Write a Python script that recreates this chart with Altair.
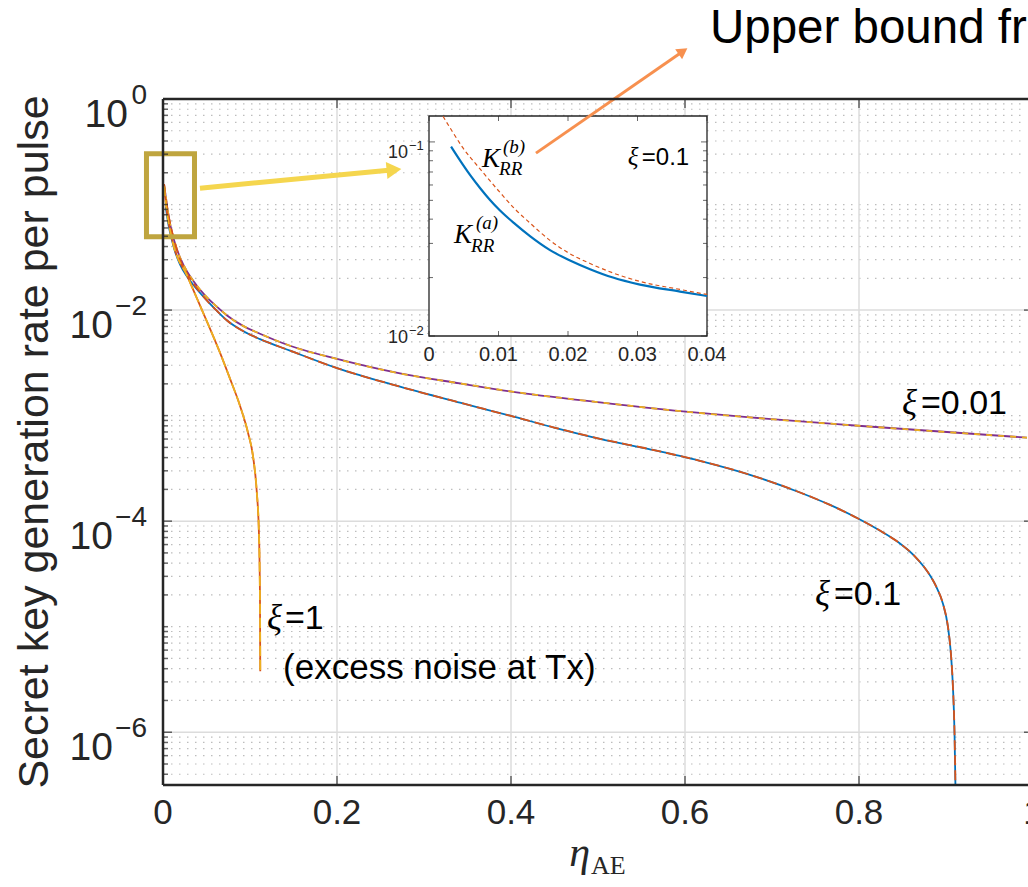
import altair as alt
import pandas as pd

# ---------------- data ----------------
# xi = 0.01  (solid purple + dashed yellow overlay)
xi001_eta = [0.00115, 0.00345, 0.00575, 0.0092, 0.0138, 0.0195, 0.0276, 0.0345, 0.0483, 0.0609,
             0.0736, 0.092, 0.1115, 0.146, 0.2, 0.2724, 0.3414, 0.3989, 0.5023, 0.5977,
             0.6747, 0.7989, 1.0]
xi001_K = [0.1559, 0.1148, 0.0845, 0.0596, 0.0429, 0.0316, 0.02326, 0.0191, 0.01376, 0.01094,
           0.00889, 0.00708, 0.00597, 0.00459, 0.00344, 0.00251, 0.00202, 0.0017, 0.001335, 0.001096,
           0.000961, 0.000802, 0.000613]

# xi = 0.1, K_RR^(a)  (solid blue) as read on the main axes
xi01_eta = [0.00317, 0.00575, 0.0092, 0.0138, 0.0195, 0.0276, 0.0345, 0.0483, 0.0609, 0.0736,
            0.092, 0.1115, 0.146, 0.2, 0.2724, 0.3414, 0.3989, 0.4506, 0.5023, 0.5598,
            0.6172, 0.6747, 0.7322, 0.7667, 0.7989, 0.8276, 0.8471, 0.8644, 0.8782, 0.8885,
            0.8966, 0.9023, 0.9057, 0.908, 0.9098, 0.9109, 0.9117]
xi01_K = [0.0943, 0.0679, 0.05, 0.036, 0.0271, 0.02085, 0.01749, 0.01289, 0.01002, 0.00796,
          0.00633, 0.00531, 0.00413, 0.00282, 0.00188, 0.001326, 0.000998, 0.000767, 0.000603, 0.00048,
          0.000373, 0.000275, 0.000187, 0.0001425, 0.000106, 7.81e-5, 6.14e-5, 4.62e-5, 3.37e-5, 2.42e-5,
          1.64e-5, 9.89e-6, 5.48e-6, 2.66e-6, 9.74e-7, 2.93e-7, 9.2e-8]
N_HEAD = 7  # points with eta < 0.04, where the upper bound differs

# xi = 0.1, upper bound K_RR^(b) (dashed orange) on the main axes; equal to (a) beyond eta ~ 0.045
ub_head_eta = [0.00126, 0.00345, 0.00575, 0.0092, 0.0138, 0.0195, 0.0276, 0.0345]
ub_head_K = [0.1559, 0.1099, 0.0836, 0.0609, 0.0429, 0.0302, 0.02226, 0.01809]
ub_eta = ub_head_eta + xi01_eta[N_HEAD:]
ub_K = ub_head_K + xi01_K[N_HEAD:]

# xi = 1 (excess noise at Tx)  (solid orange + dashed yellow overlay)
xi1_eta = [0.00115, 0.0046, 0.0115, 0.0276, 0.0425, 0.054, 0.0655, 0.077, 0.0885, 0.0977,
           0.1034, 0.1077, 0.1103, 0.1115, 0.1118]
xi1_K = [0.149, 0.0845, 0.0429, 0.0213, 0.01106, 0.00668, 0.00395, 0.00224, 0.00124, 0.000689,
         0.000416, 0.000194, 7.55e-5, 1.75e-5, 3.78e-6]

# inset (zoom of xi = 0.1 near eta = 0), read on the inset axes
ins_a_eta = [0.00317, 0.00446, 0.0059, 0.00734, 0.00878, 0.01022, 0.01237, 0.01453, 0.01741, 0.02029,
             0.02317, 0.02647, 0.03036, 0.03612, 0.04]
ins_a_K = [0.0946, 0.0803, 0.0676, 0.0579, 0.0502, 0.0443, 0.0378, 0.0327, 0.0277, 0.0245,
           0.0221, 0.0200, 0.0184, 0.01694, 0.01607]
ins_b_eta = [0.002014, 0.00331, 0.00489, 0.00734, 0.01022, 0.01237, 0.01453, 0.01741, 0.02,
             0.02317, 0.02647, 0.03036, 0.03612, 0.04]
ins_b_K = [0.1355, 0.1139, 0.0931, 0.0726, 0.0549, 0.0451, 0.0382, 0.0311, 0.0269,
           0.02364, 0.02113, 0.0191, 0.01737, 0.01637]

# axes ticks / labels
x_ticks = [0, 0.2, 0.4, 0.6, 0.8, 1.0]
x_tick_labels = ["0", "0.2", "0.4", "0.6", "0.8", "1"]
y_major = [1, 1e-2, 1e-4, 1e-6]
y_major_exp = ["0", "\u22122", "\u22124", "\u22126"]
Y_MIN = 10 ** -6.5
y_minor = [round(m * 10.0 ** k, 12) for k in range(-7, 0) for m in range(1, 10)
           if not (m == 1 and k % 2 == 0) and m * 10.0 ** k >= Y_MIN]
x_grid = [0.2, 0.4, 0.6, 0.8]

ins_x_ticks = [0, 0.01, 0.02, 0.03, 0.04]
ins_x_labels = ["0", "0.01", "0.02", "0.03", "0.04"]
ins_y_major = [0.1, 0.01]
ins_y_exp = ["\u22121", "\u22122"]
ins_y_minor = [0.02, 0.03, 0.04, 0.05, 0.06, 0.07, 0.08, 0.09]

# ---------------- styling ----------------
SANS = "Liberation Sans, Arial, Helvetica, sans-serif"
SERIF = "Liberation Serif, Times New Roman, DejaVu Serif, serif"
AX = "#262626"
BLUE, ORANGE, YELLOW, PURPLE = "#0072BD", "#D95319", "#EDB120", "#7E2F8E"

W, H = 864, 686
X_MAX = 0.9931
XS = alt.Scale(domain=[0, X_MAX], nice=False, zero=False)
YS = alt.Scale(type="log", domain=[Y_MIN, 1], nice=False)
IXS = alt.Scale(domain=[0, 0.04], range=[266, 544], nice=False, zero=False)
IYS = alt.Scale(type="log", domain=[0.01, 0.136], range=[237, 17], nice=False)
ONE = pd.DataFrame({"k": [0]})


def ex(field=None, datum=None, s=XS):
    if field is not None:
        return alt.X(field, type="quantitative", scale=s, axis=None)
    return alt.XDatum(datum, type="quantitative", scale=s, axis=None)


def ey(field=None, datum=None, s=YS):
    if field is not None:
        return alt.Y(field, type="quantitative", scale=s, axis=None)
    return alt.YDatum(datum, type="quantitative", scale=s, axis=None)


def curve(eta, K, color, width, dash=None, xs=XS, ys=YS):
    df = pd.DataFrame({"eta": eta, "K": K})
    props = dict(color=color, strokeWidth=width, clip=True, interpolate="monotone")
    if dash:
        props["strokeDash"] = dash
    return alt.Chart(df).mark_line(**props).encode(x=ex("eta", s=xs), y=ey("K", s=ys))


def label(t, x, y, size, font=SANS, style="normal", align="left", baseline="alphabetic",
          dx=0, dy=0, xs=XS, ys=YS, color="black"):
    return alt.Chart(ONE).mark_text(
        text=t, font=font, fontSize=size, fontStyle=style, align=align,
        baseline=baseline, dx=dx, dy=dy, color=color
    ).encode(x=ex(datum=x, s=xs), y=ey(datum=y, s=ys))


def ptext(t, px, py, size, font=SANS, style="normal", align="center",
          baseline="alphabetic", angle=0, color=AX):
    return alt.Chart(ONE).mark_text(
        text=t, font=font, fontSize=size, fontStyle=style, align=align,
        baseline=baseline, angle=angle, color=color
    ).encode(x=alt.value(px), y=alt.value(py))


def arrow(x0, y0, x1, y1, color, width, head_size, head_angle, xs=XS, ys=YS):
    df = pd.DataFrame({"x": [x0, x1], "y": [y0, y1]})
    ln = alt.Chart(df).mark_line(color=color, strokeWidth=width).encode(
        x=ex("x", s=xs), y=ey("y", s=ys))
    hd = alt.Chart(ONE).mark_point(shape="triangle-up", angle=head_angle, size=head_size,
                                   filled=True, color=color, opacity=1, strokeWidth=0).encode(
        x=ex(datum=x1, s=xs), y=ey(datum=y1, s=ys))
    return [ln, hd]


layers = []

# ---- grid ----
layers.append(alt.Chart(pd.DataFrame({"v": y_minor})).mark_rule(
    color="#BDBDBD", strokeWidth=1.2, strokeDash=[1.5, 6.5]).encode(
    y=ey("v"), x=alt.value(0), x2=alt.value(W)))
layers.append(alt.Chart(pd.DataFrame({"v": y_major[1:]})).mark_rule(
    color="#DCDCDC", strokeWidth=1.5).encode(y=ey("v"), x=alt.value(0), x2=alt.value(W)))
layers.append(alt.Chart(pd.DataFrame({"v": x_grid})).mark_rule(
    color="#DCDCDC", strokeWidth=1.5).encode(x=ex("v"), y=alt.value(0), y2=alt.value(H)))

# ---- main curves ----
layers += [
    curve(xi001_eta, xi001_K, PURPLE, 1.8),
    curve(xi001_eta, xi001_K, YELLOW, 1.8, dash=[6, 6]),
    curve(xi01_eta, xi01_K, BLUE, 1.8),
    curve(ub_eta, ub_K, ORANGE, 1.8, dash=[10, 5]),
    curve(xi1_eta, xi1_K, ORANGE, 1.8),
    curve(xi1_eta, xi1_K, YELLOW, 1.8, dash=[10, 4]),
]

# ---- zoom box and yellow arrow ----
layers.append(alt.Chart(ONE).mark_rect(filled=False, color="#BFA53F", strokeWidth=5).encode(
    x=ex(datum=-0.019), x2=alt.X2Datum(0.0362),
    y=ey(datum=0.303), y2=alt.Y2Datum(0.0495)))
layers += arrow(0.0425, 0.143, 0.2655, 0.2133, "#F5D64E", 5, 290, 84.6)

# ---- inset ----
layers.append(alt.Chart(ONE).mark_rect(fill="white", stroke=AX, strokeWidth=1.3).encode(
    x=ex(datum=0, s=IXS), x2=alt.X2Datum(0.04),
    y=ey(datum=0.01, s=IYS), y2=alt.Y2Datum(0.136)))
layers += [
    curve(ins_a_eta, ins_a_K, BLUE, 2.2, xs=IXS, ys=IYS),
    curve(ins_b_eta, ins_b_K, ORANGE, 1.2, dash=[4, 3], xs=IXS, ys=IYS),
]
iyt = pd.DataFrame({"v": ins_y_major})
iym = pd.DataFrame({"v": ins_y_minor})
ixt = pd.DataFrame({"v": ins_x_ticks, "lab": ins_x_labels})
for df, ln in ((iyt, 6), (iym, 4)):
    layers.append(alt.Chart(df).mark_tick(orient="horizontal", size=ln, thickness=1, xOffset=ln / 2,
                                          color=AX).encode(x=ex(datum=0, s=IXS), y=ey("v", s=IYS)))
    layers.append(alt.Chart(df).mark_tick(orient="horizontal", size=ln, thickness=1, xOffset=-ln / 2,
                                          color=AX).encode(x=ex(datum=0.04, s=IXS), y=ey("v", s=IYS)))
layers.append(alt.Chart(ixt).mark_tick(orient="vertical", size=5, thickness=1, yOffset=-2.5,
                                       color=AX).encode(x=ex("v", s=IXS), y=ey(datum=0.01, s=IYS)))
layers.append(alt.Chart(ixt).mark_tick(orient="vertical", size=5, thickness=1, yOffset=2.5,
                                       color=AX).encode(x=ex("v", s=IXS), y=ey(datum=0.136, s=IYS)))
layers.append(alt.Chart(ixt).mark_text(baseline="top", dy=9, fontSize=20, font=SANS, color=AX).encode(
    x=ex("v", s=IXS), y=ey(datum=0.01, s=IYS), text="lab:N"))
iyl = pd.DataFrame({"v": ins_y_major, "e": ins_y_exp})
for cond, dy in (("datum.v > 0.05", 11), ("datum.v < 0.05", 2)):
    layers.append(alt.Chart(iyl).transform_filter(cond).mark_text(
        text="10", align="right", dx=-21, dy=dy, fontSize=18, font=SANS, color=AX).encode(
        x=ex(datum=0, s=IXS), y=ey("v", s=IYS)))
    layers.append(alt.Chart(iyl).transform_filter(cond).mark_text(
        align="left", dx=-20, dy=dy - 7, fontSize=13, font=SANS, color=AX).encode(
        x=ex(datum=0, s=IXS), y=ey("v", s=IYS), text="e:N"))
# inset annotations
layers += [
    label("\u03be", 0.0286, 0.076, 25, font=SERIF, style="italic", xs=IXS, ys=IYS),
    label("=0.1", 0.0286, 0.076, 24, dx=14, xs=IXS, ys=IYS),
    label("K", 0.00763, 0.0743, 27, font=SERIF, style="italic", xs=IXS, ys=IYS),
    label("(b)", 0.00763, 0.0743, 19, font=SERIF, style="italic", dx=21, dy=-14, xs=IXS, ys=IYS),
    label("RR", 0.00763, 0.0743, 19, font=SERIF, style="italic", dx=17, dy=8, xs=IXS, ys=IYS),
    label("K", 0.0036, 0.0301, 27, font=SERIF, style="italic", xs=IXS, ys=IYS),
    label("(a)", 0.0036, 0.0301, 19, font=SERIF, style="italic", dx=22, dy=-14, xs=IXS, ys=IYS),
    label("RR", 0.0036, 0.0301, 19, font=SERIF, style="italic", dx=17, dy=9, xs=IXS, ys=IYS),
]

# ---- orange arrow to upper-bound text ----
layers += arrow(0.4287, 0.307, 0.5977, 2.83, "#F7904F", 3, 150, 55.4)
layers.append(label("Upper bound from", 0.6287, 3.40, 47.5))

# ---- curve annotations ----
layers += [
    label("\u03be", 0.8494, 1.04e-3, 35, font=SERIF, style="italic"),
    label("=0.01", 0.8494, 1.04e-3, 34, dx=19),
    label("\u03be", 0.7494, 1.6e-5, 35, font=SERIF, style="italic"),
    label("=0.1", 0.7494, 1.6e-5, 34, dx=19),
    label("\u03be", 0.1195, 9.47e-6, 35, font=SERIF, style="italic"),
    label("=1", 0.1195, 9.47e-6, 34, dx=18),
    label("(excess noise at Tx)", 0.138, 3.17e-6, 35),
]

# ---- frame, ticks, tick labels ----
layers += [
    alt.Chart(ONE).mark_rule(color=AX, strokeWidth=2.5).encode(
        x=alt.value(0), x2=alt.value(W + 10), y=alt.value(0)),
    alt.Chart(ONE).mark_rule(color=AX, strokeWidth=2.5).encode(
        x=alt.value(0), x2=alt.value(W + 10), y=alt.value(H)),
    alt.Chart(ONE).mark_rule(color=AX, strokeWidth=2.5).encode(
        x=alt.value(0), y=alt.value(0), y2=alt.value(H)),
]
ymaj = pd.DataFrame({"v": y_major})
ymin = pd.DataFrame({"v": y_minor})
for df, ln in ((ymaj, 9), (ymin, 5)):
    layers.append(alt.Chart(df).mark_tick(orient="horizontal", size=ln, thickness=1.5,
                                          xOffset=ln / 2, color=AX).encode(x=alt.value(0), y=ey("v")))
    layers.append(alt.Chart(df).mark_tick(orient="horizontal", size=ln, thickness=1.5,
                                          xOffset=-ln / 2, color=AX).encode(x=alt.value(870), y=ey("v")))
xt = pd.DataFrame({"v": x_ticks, "lab": x_tick_labels})
layers.append(alt.Chart(xt).mark_tick(orient="vertical", size=9, thickness=1.5, yOffset=-4.5,
                                      color=AX).encode(x=ex("v"), y=alt.value(H)))
layers.append(alt.Chart(xt).mark_tick(orient="vertical", size=9, thickness=1.5, yOffset=4.5,
                                      color=AX).encode(x=ex("v"), y=alt.value(0)))
layers.append(alt.Chart(xt).mark_text(baseline="top", dy=11, fontSize=35, font=SANS, color=AX).encode(
    x=ex("v"), y=alt.value(H), text="lab:N"))
ylab = pd.DataFrame({"v": y_major, "e": y_major_exp})
layers.append(alt.Chart(ylab).transform_filter("datum.v > 0.5").mark_text(
    text="10", align="right", dx=-35, dy=16, fontSize=39, font=SANS, color=AX).encode(
    x=alt.value(0), y=ey("v")))
layers.append(alt.Chart(ylab).transform_filter("datum.v < 0.5").mark_text(
    text="10", align="right", dx=-50, dy=16, fontSize=39, font=SANS, color=AX).encode(
    x=alt.value(0), y=ey("v")))
layers.append(alt.Chart(ylab).mark_text(
    align="right", dx=-16, dy=-3, fontSize=28, font=SANS, color=AX).encode(
    x=alt.value(0), y=ey("v"), text="e:N"))

# axis titles
layers += [
    ptext("Secret key generation rate per pulse", -128, H / 2, 43, align="center",
          baseline="middle", angle=270),
    ptext("\u03b7", 427, 767, 42, font=SERIF, style="italic", align="right"),
    ptext("AE", 428, 775, 26, font=SERIF, align="left"),
]

chart = alt.layer(*layers).resolve_scale(x="independent", y="independent").properties(
    width=W, height=H,
    autosize=alt.AutoSizeParams(type="none"),
    padding={"left": 163, "top": 99, "right": 1, "bottom": 95},
    background="white",
).configure_view(stroke=None)

chart.save("out.html", embed_options={"renderer": "svg", "actions": False})
